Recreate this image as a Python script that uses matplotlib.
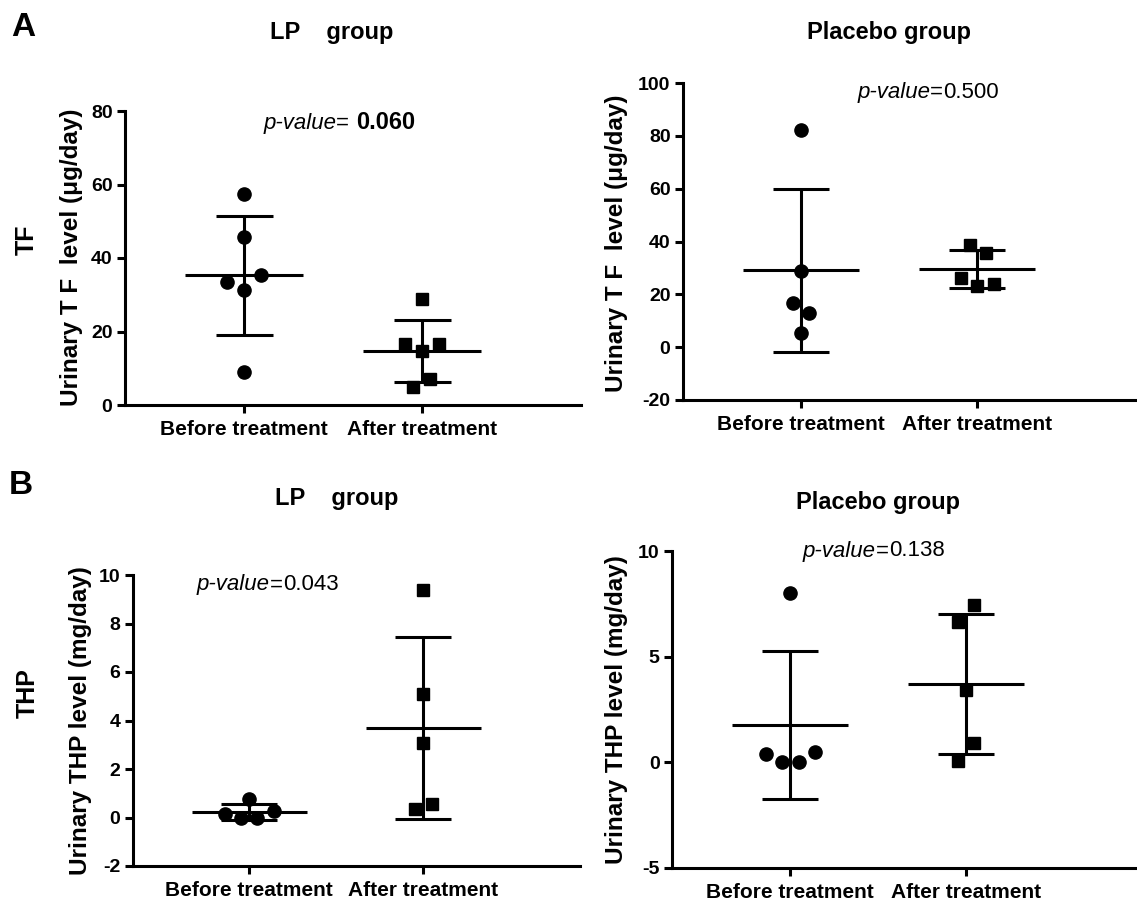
import matplotlib
matplotlib.use("Agg")
import numpy as np
import matplotlib.pyplot as plt
from matplotlib.offsetbox import TextArea, HPacker, AnnotationBbox

plt.rcParams["font.family"] = ["Liberation Sans", "DejaVu Sans"]
plt.rcParams["font.weight"] = "bold"
plt.rcParams["axes.unicode_minus"] = False

# categorias
groups = ["Before treatment", "After treatment"]

# TF (ug/day)
tf_lp_before = [57.4, 45.6, 33.6, 35.3, 31.3, 8.9]
tf_lp_after = [28.8, 16.5, 16.5, 14.8, 7.0, 5.0]
tf_pl_before = [82.3, 28.7, 16.7, 12.9, 5.3]
tf_pl_after = [38.8, 35.6, 26.1, 23.2, 24.0]

# THP (mg/day)
thp_lp_before = [0.77, 0.14, 0.0, 0.0, 0.25]
thp_lp_after = [9.39, 5.09, 3.09, 0.34, 0.56]
thp_pl_before = [8.03, 0.39, 0.0, 0.0, 0.47]
thp_pl_after = [7.43, 6.65, 3.42, 0.90, 0.08]

p_values = ["0.060", "0.500", "0.043", "0.138"]

# desplazamiento horizontal de los puntos (scatter dot plot)
dx_tf_lp_before = [0, 0, -0.095, 0.095, 0, 0]
dx_tf_lp_after = [0, -0.097, 0.094, 0, 0.045, -0.049]
dx_tf_pl_before = [0, 0, -0.047, 0.047, 0]
dx_tf_pl_after = [-0.042, 0.049, -0.089, 0, 0.095]
dx_thp_lp_before = [0, -0.136, -0.044, 0.046, 0.142]
dx_thp_lp_after = [0, 0, 0, -0.046, 0.048]
dx_thp_pl_before = [0, -0.138, -0.045, 0.049, 0.142]
dx_thp_pl_after = [0.047, -0.045, 0, 0.047, -0.045]

W, H = 1137, 911
fig = plt.figure(figsize=(W / 100, H / 100), dpi=100)
LW = 2.2


def add_axes_px(x0, x1, ytop, ybot):
    return fig.add_axes([x0 / W, 1 - ybot / H, (x1 - x0) / W, (ybot - ytop) / H])


def draw_panel(ax, before, after, dx_before, dx_after, ylim, yticks, xlim):
    for i, (vals, dx, marker, ms) in enumerate(
        [(before, dx_before, "o", 9.5), (after, dx_after, "s", 8.5)]
    ):
        vals = np.array(vals)
        ax.plot(i + np.array(dx), vals, linestyle="none", marker=marker,
                color="black", markersize=ms, zorder=3)
        m = vals.mean()
        s = vals.std(ddof=1)
        ax.vlines(i, m - s, m + s, color="black", linewidth=LW)
        ax.hlines([m - s, m + s], i - 0.16, i + 0.16, color="black", linewidth=LW)
        ax.hlines(m, i - 0.33, i + 0.33, color="black", linewidth=LW)
    ax.set_xlim(*xlim)
    ax.set_ylim(*ylim)
    ax.set_yticks(yticks)
    ax.set_xticks([0, 1], groups)
    ax.spines["top"].set_visible(False)
    ax.spines["right"].set_visible(False)
    ax.spines["left"].set_linewidth(LW)
    ax.spines["bottom"].set_linewidth(LW)
    ax.tick_params(axis="y", width=LW, length=6, labelsize=14, pad=3)
    ax.tick_params(axis="x", width=LW, length=6, labelsize=15, pad=5)


def p_label(ax, xy, value, bold_value=False, gap=0):
    a = TextArea("p-value", textprops=dict(fontstyle="italic", fontweight="normal", fontsize=16))
    b = TextArea("=", textprops=dict(fontweight="normal", fontsize=16))
    c = TextArea(value, textprops=dict(fontweight="bold" if bold_value else "normal",
                                       fontsize=17 if bold_value else 16))
    box = HPacker(children=[HPacker(children=[a, b], align="baseline", pad=0, sep=0), c],
                  align="baseline", pad=0, sep=gap)
    ab = AnnotationBbox(box, xy, xycoords="data", box_alignment=(0, 0.5),
                        frameon=False, annotation_clip=False, pad=0)
    ax.add_artist(ab)


ax1 = add_axes_px(125, 581, 111, 405)
draw_panel(ax1, tf_lp_before, tf_lp_after, dx_tf_lp_before, dx_tf_lp_after,
           (0, 80), [0, 20, 40, 60, 80], (-0.669, 1.893))
p_label(ax1, (0.107, 77), p_values[0], bold_value=True, gap=5)

ax2 = add_axes_px(683, 1137, 83, 400)
draw_panel(ax2, tf_pl_before, tf_pl_after, dx_tf_pl_before, dx_tf_pl_after,
           (-20, 100), [-20, 0, 20, 40, 60, 80, 100], (-0.670, 1.909))
p_label(ax2, (0.32, 96.5), p_values[1])

ax3 = add_axes_px(133, 580, 575, 866)
draw_panel(ax3, thp_lp_before, thp_lp_after, dx_thp_lp_before, dx_thp_lp_after,
           (-2, 10), [-2, 0, 2, 4, 6, 8, 10], (-0.667, 1.90))
p_label(ax3, (-0.30, 9.6), p_values[2])

ax4 = add_axes_px(672, 1137, 551, 868)
draw_panel(ax4, thp_pl_before, thp_pl_after, dx_thp_pl_before, dx_thp_pl_after,
           (-5, 10), [-5, 0, 5, 10], (-0.670, 1.97))
p_label(ax4, (0.074, 10.0), p_values[3])


def ftext(x, y, s, **kw):
    fig.text(x / W, 1 - y / H, s, ha="center", va="center", fontweight="bold", **kw)


# titulos
ftext(332, 32, "LP    group", fontsize=17)
ftext(889, 33, "Placebo group", fontsize=17)
ftext(337, 498, "LP    group", fontsize=17)
ftext(878, 502, "Placebo group", fontsize=17)

# etiquetas de eje y
ftext(72, 257, "Urinary T F  level (μg/day)", fontsize=17.5, rotation=90)
ftext(617, 243, "Urinary T F  level (μg/day)", fontsize=17.5, rotation=90)
ftext(80, 721, "Urinary THP level (mg/day)", fontsize=17.5, rotation=90)
ftext(617, 710, "Urinary THP level (mg/day)", fontsize=17.5, rotation=90)

# filas y letras
ftext(27, 240, "TF", fontsize=18, rotation=90)
ftext(28, 693, "THP", fontsize=18, rotation=90)
ftext(23, 27, "A", fontsize=24)
ftext(21, 486, "B", fontsize=24)

fig.savefig("out.png", dpi=100, facecolor="white")
